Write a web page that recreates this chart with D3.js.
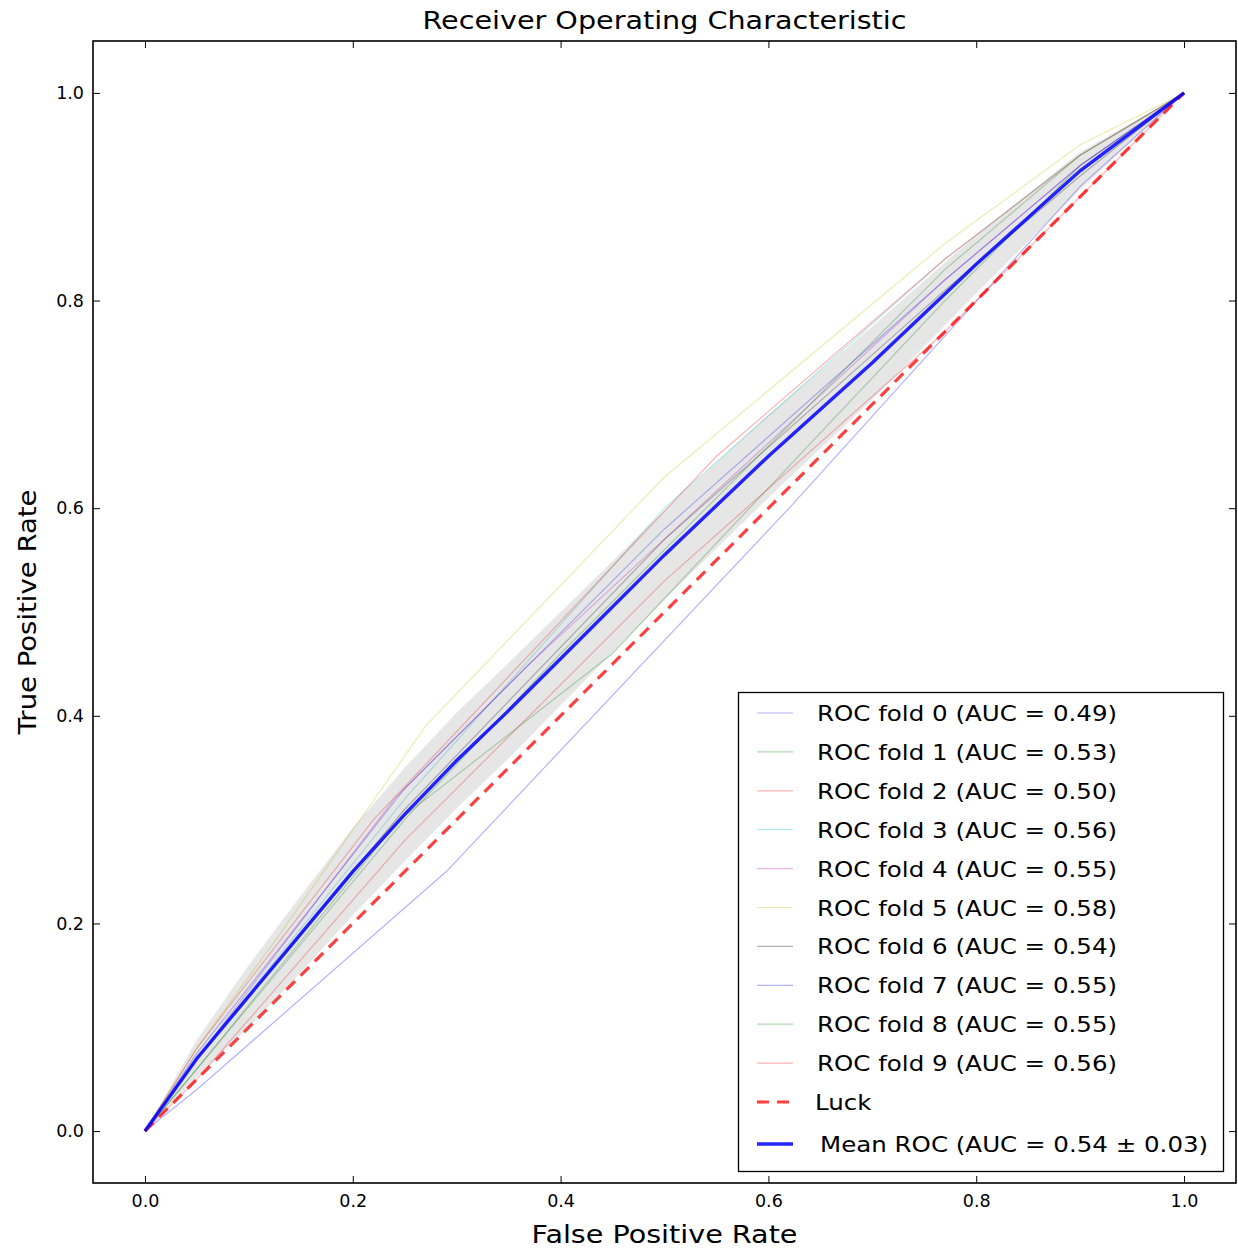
<!DOCTYPE html>
<html>
<head>
<meta charset="utf-8">
<script src="https://cdn.jsdelivr.net/npm/d3@7"></script>
<style>
  body { margin: 0; background: #fff; }
  text { font-family: "DejaVu Sans", sans-serif; fill: #000; }
</style>
</head>
<body>
<svg id="chart" width="1238" height="1251"></svg>
<script>
// ---------- data ----------
const foldNames = ["ROC fold 0", "ROC fold 1", "ROC fold 2", "ROC fold 3", "ROC fold 4",
                   "ROC fold 5", "ROC fold 6", "ROC fold 7", "ROC fold 8", "ROC fold 9"];
const foldAUC = [0.49, 0.53, 0.50, 0.56, 0.55, 0.58, 0.54, 0.55, 0.55, 0.56];
const foldColors = ["#0000ff", "#008000", "#ff0000", "#00bfbf", "#bf00bf",
                    "#bfbf00", "#000000", "#0000ff", "#008000", "#ff0000"];

const fold0FPR = [0, 0.05, 0.29, 0.62, 0.90, 1];
const fold0TPR = [0, 0.04, 0.25, 0.60, 0.91, 1];
const fold1FPR = [0, 0.05, 0.245, 0.45, 0.77, 0.90, 1];
const fold1TPR = [0, 0.06, 0.30, 0.46, 0.80, 0.93, 1];
const fold2FPR = [0, 0.05, 0.25, 0.50, 0.77, 0.90, 1];
const fold2TPR = [0, 0.05, 0.28, 0.53, 0.77, 0.90, 1];
const fold3FPR = [0, 0.05, 0.25, 0.50, 0.77, 0.90, 1];
const fold3TPR = [0, 0.07, 0.32, 0.60, 0.84, 0.94, 1];
const fold4FPR = [0, 0.05, 0.24, 0.37, 0.77, 0.90, 1];
const fold4TPR = [0, 0.07, 0.32, 0.45, 0.82, 0.93, 1];
const fold5FPR = [0, 0.05, 0.13, 0.27, 0.50, 0.77, 0.90, 1];
const fold5TPR = [0, 0.08, 0.19, 0.39, 0.63, 0.855, 0.95, 1];
const fold6FPR = [0, 0.05, 0.25, 0.50, 0.77, 0.90, 1];
const fold6TPR = [0, 0.07, 0.31, 0.57, 0.81, 0.92, 1];
const fold7FPR = [0, 0.05, 0.25, 0.50, 0.77, 0.90, 1];
const fold7TPR = [0, 0.075, 0.33, 0.58, 0.82, 0.93, 1];
const fold8FPR = [0, 0.05, 0.25, 0.40, 0.77, 0.90, 1];
const fold8TPR = [0, 0.06, 0.30, 0.46, 0.83, 0.94, 1];
const fold9FPR = [0, 0.05, 0.22, 0.55, 0.77, 0.90, 1];
const fold9TPR = [0, 0.08, 0.30, 0.65, 0.84, 0.94, 1];

const meanFPR = [0, 0.05, 0.10, 0.15, 0.20, 0.25, 0.30, 0.35, 0.40, 0.50, 0.60, 0.70, 0.80, 0.90, 1.0];
const meanTPR = [0, 0.07, 0.13, 0.19, 0.25, 0.305, 0.357, 0.405, 0.455, 0.555, 0.65, 0.74, 0.835, 0.925, 1.0];
const stdTPR  = [0, 0.018, 0.03, 0.037, 0.042, 0.045, 0.046, 0.046, 0.045, 0.043, 0.04, 0.035, 0.028, 0.018, 0];
const meanAUC = 0.54, stdAUC = 0.03;

const luckX = [0, 1];
const luckY = [0, 1];

const xTicks = [0.0, 0.2, 0.4, 0.6, 0.8, 1.0];
const yTicks = [0.0, 0.2, 0.4, 0.6, 0.8, 1.0];

const foldFPR = [fold0FPR, fold1FPR, fold2FPR, fold3FPR, fold4FPR, fold5FPR, fold6FPR, fold7FPR, fold8FPR, fold9FPR];
const foldTPR = [fold0TPR, fold1TPR, fold2TPR, fold3TPR, fold4TPR, fold5TPR, fold6TPR, fold7TPR, fold8TPR, fold9TPR];

// ---------- layout ----------
const svg = d3.select("#chart");
const L = 93, R = 1236, T = 41, B = 1183;
const x = d3.scaleLinear().domain([-0.05, 1.05]).range([L, R]);
const y = d3.scaleLinear().domain([-0.05, 1.05]).range([B, T]);

const line = d3.line().x(d => x(d[0])).y(d => y(d[1]));

svg.append("clipPath").attr("id", "clip")
  .append("rect").attr("x", L).attr("y", T).attr("width", R - L).attr("height", B - T);
const plot = svg.append("g").attr("clip-path", "url(#clip)");

// fold curves
foldFPR.forEach((fx, i) => {
  const pts = fx.map((v, j) => [v, foldTPR[i][j]]);
  plot.append("path").datum(pts)
    .attr("d", line).attr("fill", "none")
    .attr("stroke", foldColors[i]).attr("stroke-opacity", 0.3)
    .attr("stroke-width", 1.2);
});

// luck diagonal
plot.append("path").datum(luckX.map((v, i) => [v, luckY[i]]))
  .attr("d", line).attr("fill", "none")
  .attr("stroke", "#ff0000").attr("stroke-opacity", 0.75)
  .attr("stroke-width", 3.2).attr("stroke-dasharray", "12,8");

// std band
const area = d3.area()
  .x((d, i) => x(meanFPR[i]))
  .y0((d, i) => y(Math.max(meanTPR[i] - stdTPR[i], 0)))
  .y1((d, i) => y(Math.min(meanTPR[i] + stdTPR[i], 1)));
plot.append("path").datum(meanFPR)
  .attr("d", area).attr("fill", "#808080").attr("fill-opacity", 0.2);

// mean ROC
plot.append("path").datum(meanFPR.map((v, i) => [v, meanTPR[i]]))
  .attr("d", line).attr("fill", "none")
  .attr("stroke", "#0000ff").attr("stroke-opacity", 0.85)
  .attr("stroke-width", 3.4);

// ---------- axes (ticks inside, on all sides) ----------
const tickLen = 7;
const axB = svg.append("g").attr("transform", `translate(0,${B})`)
  .call(d3.axisBottom(x).tickValues(xTicks).tickFormat(d3.format(".1f")).tickSizeInner(-tickLen).tickSizeOuter(0).tickPadding(12));
const axT = svg.append("g").attr("transform", `translate(0,${T})`)
  .call(d3.axisTop(x).tickValues(xTicks).tickFormat("").tickSizeInner(-tickLen).tickSizeOuter(0));
const axL = svg.append("g").attr("transform", `translate(${L},0)`)
  .call(d3.axisLeft(y).tickValues(yTicks).tickFormat(d3.format(".1f")).tickSizeInner(-tickLen).tickSizeOuter(0).tickPadding(9));
const axR = svg.append("g").attr("transform", `translate(${R},0)`)
  .call(d3.axisRight(y).tickValues(yTicks).tickFormat("").tickSizeInner(-tickLen).tickSizeOuter(0));
[axB, axT, axL, axR].forEach(a => {
  a.select(".domain").remove();
  a.selectAll(".tick line").attr("stroke", "#000").attr("stroke-width", 1);
  a.selectAll(".tick text").attr("font-size", 17.5).attr("font-family", "DejaVu Sans, sans-serif").attr("fill", "#000");
});

// frame
svg.append("rect").attr("x", L).attr("y", T).attr("width", R - L).attr("height", B - T)
  .attr("fill", "none").attr("stroke", "#000").attr("stroke-width", 1.6);

// stretched text helper (reference glyphs are slightly wider than DejaVu)
function stext(parent, tx, ty, str, size, sx, anchor, rot) {
  return parent.append("text")
    .attr("transform", `translate(${tx},${ty})${rot ? " rotate(" + rot + ")" : ""} scale(${sx},1)`)
    .attr("text-anchor", anchor || "start").attr("font-size", size).text(str);
}

// titles
stext(svg, (L + R) / 2, 29, "Receiver Operating Characteristic", 25, 1.145, "middle");
stext(svg, (L + R) / 2, 1243, "False Positive Rate", 25, 1.145, "middle");
stext(svg, 36, (T + B) / 2, "True Positive Rate", 25, 1.1, "middle", -90);

// ---------- legend ----------
const lg = svg.append("g");
lg.append("rect").attr("x", 738.5).attr("y", 692.5).attr("width", 485).attr("height", 479)
  .attr("fill", "#fff").attr("stroke", "#000").attr("stroke-width", 1.3);
const rowY0 = 713, rowStep = 38.9;
const entries = foldNames.map((n, i) => ({
  label: `${n} (AUC = ${foldAUC[i].toFixed(2)})`, color: foldColors[i], op: 0.3, w: 1.2, dash: null, ty: rowY0 + i * rowStep, tx: 817
}));
entries.push({ label: "Luck", color: "#ff0000", op: 0.75, w: 3.2, dash: "12,8", ty: rowY0 + 10 * rowStep, tx: 815 });
entries.push({ label: `Mean ROC (AUC = ${meanAUC.toFixed(2)} \u00b1 ${stdAUC.toFixed(2)})`, color: "#0000ff", op: 0.85, w: 3.4, dash: null, ty: 1144, tx: 820 });
entries.forEach(e => {
  lg.append("line").attr("x1", 757).attr("x2", 793).attr("y1", e.ty).attr("y2", e.ty)
    .attr("stroke", e.color).attr("stroke-opacity", e.op).attr("stroke-width", e.w)
    .attr("stroke-dasharray", e.dash);
  stext(lg, e.tx, e.ty + 8, e.label, 22, 1.115, "start");
});
</script>
</body>
</html>
